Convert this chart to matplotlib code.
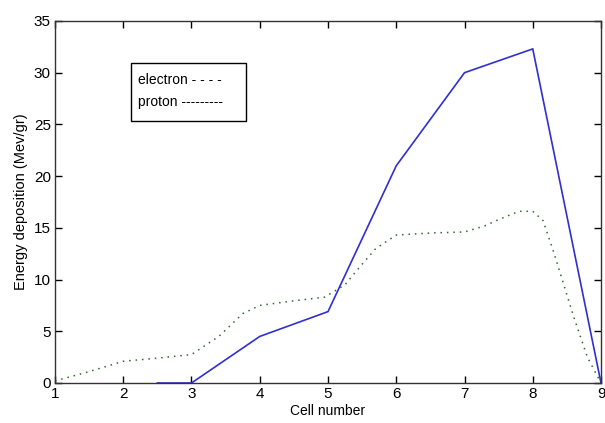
import matplotlib
matplotlib.use("Agg")
import matplotlib.pyplot as plt
from matplotlib.patches import Rectangle

plt.rcParams['font.family'] = ['Liberation Sans', 'DejaVu Sans']

# electron deposition (solid blue)
electron_x = [2.5, 3, 4, 5, 6, 7, 8, 9]
electron_y = [0.0, 0.0, 4.5, 6.9, 21.0, 30.0, 32.3, 0.0]

# proton deposition (dotted green)
proton_x = [1.0, 1.5, 2.0, 2.5, 3.0, 3.4, 3.75, 4.0, 4.45, 4.95, 5.25, 5.45, 5.7,
            6.0, 6.5, 7.0, 7.3, 7.5, 7.8, 8.0, 8.15, 8.3, 8.45, 8.6, 8.8, 9.0]
proton_y = [0.2, 1.1, 2.1, 2.4, 2.75, 4.5, 6.7, 7.5, 7.9, 8.3, 9.5, 11.1, 13.0,
            14.3, 14.5, 14.6, 15.2, 15.8, 16.6, 16.6, 15.7, 12.8, 9.6, 6.4, 2.5, 0.0]

xticks = list(range(1, 10))
yticks = list(range(0, 36, 5))

fig = plt.figure(figsize=(6.05, 4.23), dpi=100)
ax = fig.add_axes([0.0909, 0.0946, 0.9025, 0.8558])

ax.plot(electron_x, electron_y, color='#2f2fd2', lw=1.2, solid_joinstyle='miter')
ax.plot(proton_x, proton_y, color='#2e6a2e', lw=1.1, linestyle=(0, (1, 3.2)))

ax.set_xlim(1, 9)
ax.set_ylim(0, 35)
ax.set_xticks(xticks)
ax.set_yticks(yticks)
ax.tick_params(direction='in', length=5, width=1, labelsize=11,
               top=True, right=True, pad=3)
for s in ax.spines.values():
    s.set_linewidth(1.0)
    s.set_color('#333333')

ax.set_xlabel('Cell number', fontsize=10, labelpad=2)
ax.set_ylabel('Energy deposition (Mev/gr)', fontsize=10.5, labelpad=4)

# hand-made legend box
ax.add_patch(Rectangle((0.139, 0.724), 0.211, 0.159, transform=ax.transAxes,
                       fill=False, edgecolor='black', lw=1.0))
ax.text(0.152, 0.838, 'electron - - - -', transform=ax.transAxes,
        fontsize=10, va='center', ha='left')
ax.text(0.152, 0.775, 'proton ---------', transform=ax.transAxes,
        fontsize=10, va='center', ha='left')

fig.savefig('out.png', dpi=100)
